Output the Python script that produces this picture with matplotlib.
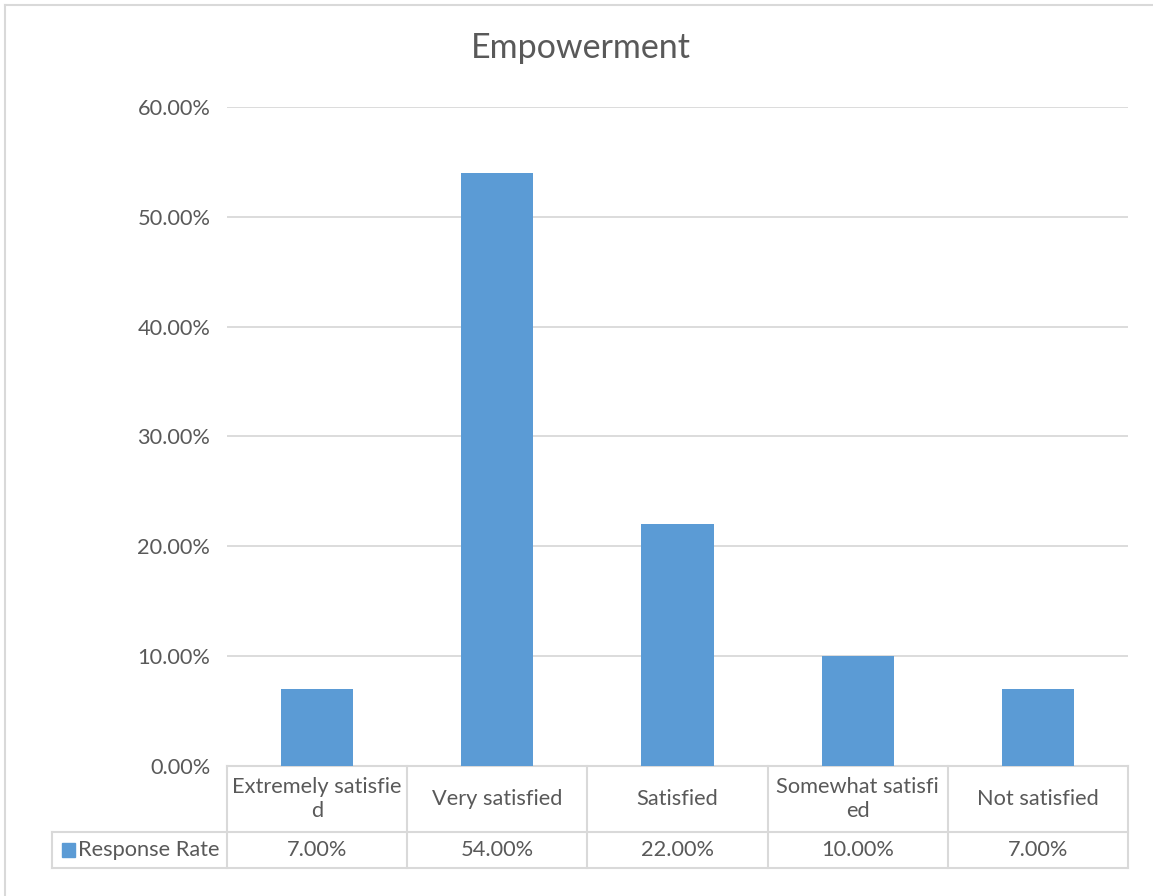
import matplotlib.pyplot as plt
from matplotlib.lines import Line2D
from matplotlib.patches import Rectangle

categories = ["Extremely satisfie\nd", "Very satisfied", "Satisfied",
              "Somewhat satisfi\ned", "Not satisfied"]
response_rate = [7.0, 54.0, 22.0, 10.0, 7.0]
series_name = "Response Rate"
y_ticks = [0, 10, 20, 30, 40, 50, 60]

bar_color = "#5B9BD5"
text_color = "#595959"
grid_color = "#D9D9D9"
fs = 15.7

plt.rcParams["font.family"] = ["Lato", "DejaVu Sans"]

fig = plt.figure(figsize=(11.53, 8.96), dpi=100)
ax = fig.add_axes([0.1969, 0.1451, 0.7814, 0.7355])

x = list(range(len(categories)))
ax.bar(x, response_rate, width=0.4, color=bar_color, zorder=3)

ax.set_xlim(-0.5, len(categories) - 0.5)
ax.set_ylim(0, 60)
ax.set_yticks(y_ticks)
ax.set_yticklabels([f"{v:.2f}%" for v in y_ticks], fontsize=fs, color=text_color)
ax.tick_params(axis="y", length=0, pad=12)
ax.set_xticks([])
ax.grid(axis="y", color=grid_color, linewidth=1.3, zorder=0)
for s in ax.spines.values():
    s.set_visible(False)

fig.text(0.504, 0.946, "Empowerment", ha="center", va="center",
         fontsize=24.5, color=text_color)

# data table below the plot (x in data units, y in axes fraction)
tr = ax.get_xaxis_transform()
row1 = -0.1002
row2 = -0.1555
left = -1.471
right = len(categories) - 0.5
line_kw = dict(color=grid_color, linewidth=1.5, transform=tr, clip_on=False)

for yy in (0, row1, row2):
    x0 = -0.5 if yy == 0 else left
    ax.add_line(Line2D([x0, right], [yy, yy], **line_kw))
ax.add_line(Line2D([left, left], [row1, row2], **line_kw))
for i in range(len(categories) + 1):
    ax.add_line(Line2D([i - 0.5, i - 0.5], [0, row2], **line_kw))

for i, (cat, val) in enumerate(zip(categories, response_rate)):
    ax.text(i, row1 / 2, cat, transform=tr, ha="center", va="center",
            fontsize=fs, color=text_color, linespacing=1.3)
    ax.text(i, (row1 + row2) / 2, f"{val:.2f}%", transform=tr,
            ha="center", va="center", fontsize=fs, color=text_color)

ax.add_patch(Rectangle((left + 0.055, row1 + (row2 - row1) * 0.3), 0.072,
                       (row2 - row1) * 0.38, transform=tr, color=bar_color,
                       clip_on=False))
ax.text(left + 0.145, (row1 + row2) / 2, series_name, transform=tr,
        ha="left", va="center", fontsize=fs, color=text_color)

# chart frame edges
fig.add_artist(Line2D([0.0045, 1.0], [0.9945, 0.9945], color=grid_color,
                      linewidth=1.5, transform=fig.transFigure))
fig.add_artist(Line2D([0.0045, 0.0045], [0.0, 0.9945], color=grid_color,
                      linewidth=1.5, transform=fig.transFigure))

fig.savefig("out.png", dpi=100)
